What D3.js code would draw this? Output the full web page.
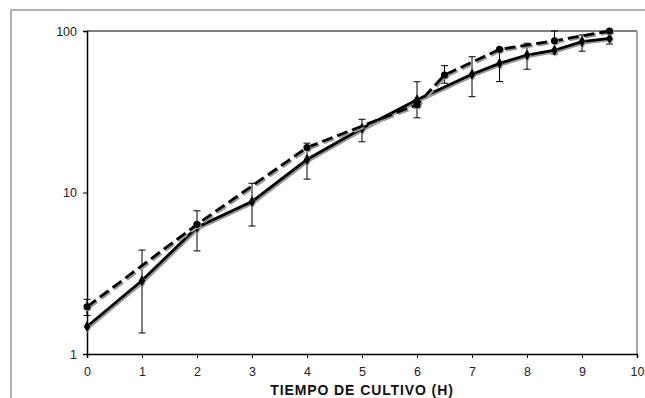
<!DOCTYPE html>
<html>
<head>
<meta charset="utf-8">
<script src="https://cdn.jsdelivr.net/npm/d3@7"></script>
<style>
  body { margin: 0; background: #fff; }
  svg { display: block; font-family: "Liberation Sans", Arial, sans-serif; }
</style>
</head>
<body>
<div id="chart"></div>
<script>
// solid series (diamonds)
const solidX = [0, 1, 2, 3, 4, 5, 6, 7, 7.5, 8, 8.5, 9, 9.5];
const solidY = [1.48, 2.85, 6.1, 8.8, 16, 25, 37.5, 54, 63, 71, 76, 86, 90];
const solidLo = [null, 1.35, 4.35, 6.2, 12.1, 20.6, 29, 39.2, 48.6, 58, 72, 75, 83];
const solidHi = [null, 4.4, 7.7, 11.4, 20.2, 28.4, 48.5, 69.3, 77, 84, 100, 94.5, 100];

// dashed series (circles)
const dashX = [0, 2, 4, 6, 6.5, 7.5, 8.5, 9.5];
const dashY = [1.96, 6.35, 19, 35, 53.4, 77, 87, 100];
const dashLo = [1.73, null, null, null, 47.5, null, null, null];
const dashHi = [2.18, null, null, null, 61, null, null, null];

const xTicks = [0, 1, 2, 3, 4, 5, 6, 7, 8, 9, 10];
const yTicks = [1, 10, 100];
const xTitle = "TIEMPO DE CULTIVO (H)";

const W = 645, H = 398;
const mLeft = 87, mRight = 637, mTop = 31, mBottom = 354;

const svg = d3.select("#chart").append("svg")
    .attr("width", W)
    .attr("height", H);

// outer frame (left and top only visible)
svg.append("path")
    .attr("d", `M11,${H} V10 H${W}`)
    .attr("fill", "none")
    .attr("stroke", "#999")
    .attr("stroke-width", 1.5);

const x = d3.scaleLinear().domain([0, 10]).range([mLeft, mRight]);
const y = d3.scaleLog().domain([1, 100]).range([mBottom, mTop]);

// plot border: top black, right grey
svg.append("line")
    .attr("x1", mLeft).attr("x2", mRight)
    .attr("y1", mTop).attr("y2", mTop)
    .attr("stroke", "#000");
svg.append("line")
    .attr("x1", mRight).attr("x2", mRight)
    .attr("y1", mTop).attr("y2", mBottom)
    .attr("stroke", "#888")
    .attr("stroke-width", 1.5);

const xAxis = svg.append("g")
    .attr("transform", `translate(0,${mBottom})`)
    .call(d3.axisBottom(x).tickValues(xTicks).tickSize(4).tickPadding(9).tickFormat(d3.format("d")));
const yAxis = svg.append("g")
    .attr("transform", `translate(${mLeft},0)`)
    .call(d3.axisLeft(y).tickValues(yTicks).tickSize(4).tickPadding(6).tickFormat(d3.format("d")));

[xAxis, yAxis].forEach(g => {
    g.select(".domain").attr("stroke", "#000").attr("stroke-width", 1.5);
    g.selectAll(".tick line").attr("stroke", "#000");
    g.selectAll(".tick text")
        .attr("fill", "#222")
        .style("font-size", "12.5px")
        .style("font-family", "'Liberation Sans', Arial, sans-serif");
});

svg.append("text")
    .attr("x", (mLeft + mRight) / 2)
    .attr("y", 395)
    .attr("text-anchor", "middle")
    .style("font-size", "14px")
    .style("font-weight", "bold")
    .style("letter-spacing", "0.9px")
    .attr("fill", "#111")
    .text(xTitle);

const plot = svg.append("g");

function drawSeries(xs, ys, lo, hi, dashed) {
    const pts = xs.map((d, i) => [d, ys[i]]);
    const line = d3.line().x(d => x(d[0])).y(d => y(d[1]));

    // error bars
    const eb = pts.map((d, i) => ({ x: d[0], lo: lo[i], hi: hi[i] })).filter(d => d.lo != null);
    const g = plot.append("g").attr("stroke", "#000").attr("stroke-width", 1);
    g.selectAll(".v").data(eb).enter().append("line")
        .attr("x1", d => x(d.x)).attr("x2", d => x(d.x))
        .attr("y1", d => y(d.lo)).attr("y2", d => y(d.hi));
    g.selectAll(".lo").data(eb).enter().append("line")
        .attr("x1", d => x(d.x) - 3.5).attr("x2", d => x(d.x) + 3.5)
        .attr("y1", d => y(d.lo)).attr("y2", d => y(d.lo));
    g.selectAll(".hi").data(eb).enter().append("line")
        .attr("x1", d => x(d.x) - 3.5).attr("x2", d => x(d.x) + 3.5)
        .attr("y1", d => y(d.hi)).attr("y2", d => y(d.hi));

    // shadow
    plot.append("path")
        .datum(pts)
        .attr("d", line)
        .attr("transform", "translate(1.5,1.5)")
        .attr("fill", "none")
        .attr("stroke", "#999")
        .attr("stroke-width", 2.8)
        .attr("stroke-dasharray", dashed ? "11,5" : null);
    plot.append("path")
        .datum(pts)
        .attr("d", line)
        .attr("fill", "none")
        .attr("stroke", "#000")
        .attr("stroke-width", 2.8)
        .attr("stroke-dasharray", dashed ? "11,5" : null);

    const sym = d3.symbol().type(dashed ? d3.symbolCircle : d3.symbolDiamond).size(dashed ? 40 : 36);
    plot.selectAll(null).data(pts).enter().append("path")
        .attr("d", sym)
        .attr("transform", d => `translate(${x(d[0]) + 1},${y(d[1]) + 1})`)
        .attr("fill", "#999");
    plot.selectAll(null).data(pts).enter().append("path")
        .attr("d", sym)
        .attr("transform", d => `translate(${x(d[0])},${y(d[1])})`)
        .attr("fill", "#000");
}

drawSeries(solidX, solidY, solidLo, solidHi, false);
drawSeries(dashX, dashY, dashLo, dashHi, true);
</script>
</body>
</html>
